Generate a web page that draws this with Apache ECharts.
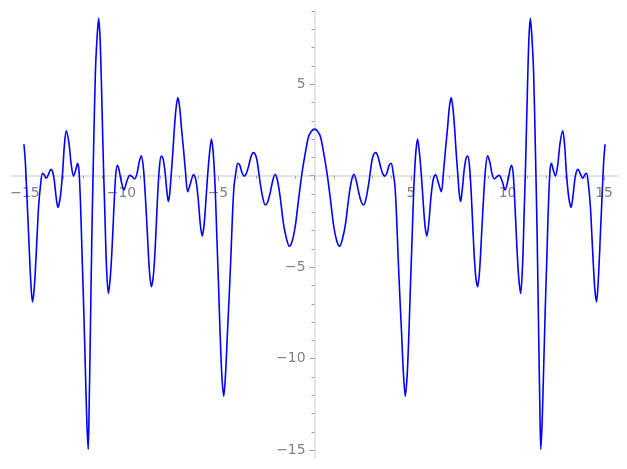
<!DOCTYPE html>
<html>
<head>
<meta charset="utf-8">
<script src="https://cdn.jsdelivr.net/npm/echarts@6/dist/echarts.min.js"></script>
<style>html,body{margin:0;padding:0;background:#fff;}#c{width:627px;height:469px;}</style>
</head>
<body>
<div id="c"></div>
<script>
// Values
const xLeft = [-15.05,-14.98,-14.90,-14.81,-14.71,-14.61,-14.52,-14.43,-14.36,-14.29,-14.19,-14.09,-14.00,-13.89,-13.77,-13.65,-13.56,-13.48,-13.39,-13.29,-13.17,-13.05,-12.96,-12.86,-12.72,-12.60,-12.48,-12.37,-12.27,-12.20,-12.12,-12.04,-11.96,-11.87,-11.79,-11.72,-11.67,-11.61,-11.53,-11.44,-11.35,-11.26,-11.18,-11.11,-11.05,-11.00,-10.93,-10.86,-10.78,-10.68,-10.58,-10.49,-10.40,-10.30,-10.21,-10.13,-10.03,-9.87,-9.72,-9.57,-9.45,-9.32,-9.19,-9.08,-8.97,-8.86,-8.75,-8.65,-8.55,-8.45,-8.36,-8.28,-8.20,-8.12,-8.03,-7.94,-7.85,-7.75,-7.66,-7.57,-7.50,-7.42,-7.33,-7.27,-7.18,-7.08,-6.98,-6.89,-6.79,-6.68,-6.57,-6.42,-6.27,-6.15,-6.03,-5.92,-5.82,-5.73,-5.64,-5.54,-5.44,-5.34,-5.25,-5.16,-5.10,-5.04,-4.97,-4.89,-4.80,-4.70,-4.60,-4.51,-4.42,-4.33,-4.25,-4.17,-4.07,-3.97,-3.86,-3.75,-3.64,-3.54,-3.42,-3.30,-3.18,-3.08,-2.98,-2.81,-2.68,-2.55,-2.43,-2.30,-2.17,-2.04,-1.92,-1.78,-1.61,-1.45,-1.30,-1.15,-1.00,-0.83,-0.65,-0.48,-0.31,-0.15];
const yLeft = [1.72,0.80,-1.00,-3.15,-5.50,-6.90,-6.20,-4.60,-3.10,-1.69,-0.50,0.13,0.05,-0.14,0.10,0.35,0.20,-0.24,-1.10,-1.73,-1.20,0.13,1.60,2.46,1.80,0.60,-0.02,0.30,0.68,0.30,-1.50,-4.30,-7.00,-10.50,-13.50,-14.96,-12.50,-8.60,-3.14,1.50,5.60,7.60,8.60,7.60,5.60,3.50,0.50,-2.00,-4.80,-6.43,-5.60,-4.06,-2.00,0.00,0.57,0.35,-0.20,-0.78,-0.30,0.02,-0.05,-0.18,0.13,0.75,1.09,0.40,-1.33,-3.30,-5.20,-6.07,-5.60,-4.50,-2.80,-1.00,0.50,1.08,0.95,0.30,-0.70,-1.42,-1.00,0.10,1.40,2.40,3.60,4.27,3.70,2.60,1.50,0.20,-0.88,-0.40,0.07,-0.20,-1.20,-2.60,-3.30,-2.80,-1.60,-0.05,1.20,2.00,1.30,-0.30,-2.00,-3.90,-6.00,-8.60,-10.90,-12.05,-10.70,-8.60,-6.60,-4.40,-2.20,-0.60,0.20,0.68,0.55,0.15,-0.02,0.10,0.49,1.00,1.26,1.20,0.86,-0.42,-1.20,-1.60,-1.45,-0.96,-0.30,0.08,-0.25,-1.15,-2.60,-3.45,-3.86,-3.55,-2.79,-1.33,0.13,1.22,2.13,2.45];
const xRight = [0.00,0.15,0.31,0.48,0.65,0.83,1.00,1.15,1.30,1.45,1.61,1.78,1.92,2.04,2.17,2.30,2.43,2.55,2.68,2.81,2.98,3.08,3.18,3.30,3.42,3.54,3.64,3.75,3.86,3.97,4.07,4.17,4.25,4.33,4.42,4.51,4.60,4.70,4.80,4.89,4.97,5.04,5.10,5.16,5.25,5.34,5.44,5.54,5.64,5.73,5.82,5.92,6.03,6.15,6.27,6.42,6.57,6.68,6.79,6.89,6.98,7.08,7.18,7.27,7.33,7.42,7.50,7.57,7.66,7.75,7.85,7.94,8.03,8.12,8.20,8.28,8.36,8.45,8.55,8.65,8.75,8.86,8.97,9.08,9.19,9.32,9.45,9.57,9.72,9.87,10.03,10.13,10.21,10.30,10.40,10.49,10.58,10.68,10.78,10.86,10.93,11.00,11.05,11.11,11.18,11.26,11.35,11.44,11.53,11.61,11.67,11.72,11.79,11.87,11.96,12.04,12.12,12.20,12.27,12.37,12.48,12.60,12.72,12.86,12.96,13.05,13.17,13.29,13.39,13.48,13.56,13.65,13.77,13.89,14.00,14.09,14.19,14.29,14.36,14.43,14.52,14.61,14.71,14.81,14.90,14.98,15.05];
const yRight = [2.55,2.45,2.13,1.22,0.13,-1.33,-2.79,-3.55,-3.86,-3.45,-2.60,-1.15,-0.25,0.08,-0.30,-0.96,-1.45,-1.60,-1.20,-0.42,0.86,1.20,1.26,1.00,0.49,0.10,-0.02,0.15,0.55,0.68,0.20,-0.60,-2.20,-4.40,-6.60,-8.60,-10.70,-12.05,-10.90,-8.60,-6.00,-3.90,-2.00,-0.30,1.30,2.00,1.20,-0.05,-1.60,-2.80,-3.30,-2.60,-1.20,-0.20,0.07,-0.40,-0.88,0.20,1.50,2.60,3.70,4.27,3.60,2.40,1.40,0.10,-1.00,-1.42,-0.70,0.30,0.95,1.08,0.50,-1.00,-2.80,-4.50,-5.60,-6.07,-5.20,-3.30,-1.33,0.40,1.09,0.75,0.13,-0.18,-0.05,0.02,-0.30,-0.78,-0.20,0.35,0.57,0.00,-2.00,-4.06,-5.60,-6.43,-4.80,-2.00,0.50,3.50,5.60,7.60,8.60,7.60,5.60,1.50,-3.14,-8.60,-12.50,-14.96,-13.50,-10.50,-7.00,-4.30,-1.50,0.30,0.68,0.30,-0.02,0.60,1.80,2.46,1.60,0.13,-1.20,-1.73,-1.10,-0.24,0.20,0.35,0.10,-0.14,0.05,0.13,-0.50,-1.69,-3.10,-4.60,-6.20,-6.90,-5.50,-3.15,-1.00,0.80,1.72];
const xMajorTicks = [-15,-10,-5,0,5,10,15];
const xLabels = [-15,-10,-5,5,10,15];
const xMinorTicks = [-15,-14,-13,-12,-11,-10,-9,-8,-7,-6,-5,-4,-3,-2,-1,0,1,2,3,4,5,6,7,8,9,10,11,12,13,14,15];
const yMajorTicks = [-15,-10,-5,0,5];
const yLabels = [-15,-10,-5,5];
const yMinorTicks = [-15,-14,-13,-12,-11,-10,-9,-8,-7,-6,-5,-4,-3,-2,-1,0,1,2,3,4,5,6,7,8,9];

const data = xLeft.map((x, i) => [x, yLeft[i]]).concat(xRight.map((x, i) => [x, yRight[i]]));
const fmt = v => (v < 0 ? '\u2212' + Math.abs(v) : String(v));
const XMIN = -15.72, XMAX = 15.72, YMIN = -15.46, YMAX = 9.06;
const W = 627, H = 469;
const G = {left: 11, right: 9, top: 10, bottom: 10.5};
const gw = W - G.left - G.right, gh = H - G.top - G.bottom;
// distance of the zero lines from the grid edges, via the axis scales
const xZeroOffset = -(gh * (0 - YMIN) / (YMAX - YMIN));
const yZeroOffset = -(gw * (0 - XMIN) / (XMAX - XMIN));
const lineCol = '#dcdcdc', tickCol = '#a0a0a0', labCol = '#808080';
const font = 'DejaVu Sans';

const chart = echarts.init(document.getElementById('c'), null, {renderer: 'canvas'});
chart.setOption({
  animation: false,
  backgroundColor: '#ffffff',
  grid: {left: G.left, right: G.right, top: G.top, bottom: G.bottom, containLabel: false, outerBoundsMode: 'none'},
  xAxis: [
    {type: 'value', min: XMIN, max: XMAX, position: 'bottom', offset: xZeroOffset,
     axisLine: {show: true, onZero: false, lineStyle: {color: lineCol, width: 1.5}},
     axisTick: {show: true, customValues: xMajorTicks, length: 5, inside: false, lineStyle: {color: tickCol, width: 1}},
     axisLabel: {show: true, customValues: xLabels, formatter: fmt, color: labCol, fontFamily: font, fontSize: 13.9, margin: 11},
     splitLine: {show: false}},
    {type: 'value', min: XMIN, max: XMAX, position: 'bottom', offset: xZeroOffset,
     axisLine: {show: false, onZero: false},
     axisTick: {show: true, customValues: xMinorTicks, length: 3, inside: false, lineStyle: {color: tickCol, width: 1}},
     axisLabel: {show: false}, splitLine: {show: false}}
  ],
  yAxis: [
    {type: 'value', min: YMIN, max: YMAX, position: 'left', offset: yZeroOffset,
     axisLine: {show: true, onZero: false, lineStyle: {color: lineCol, width: 1.5}},
     axisTick: {show: true, customValues: yMajorTicks, length: 5, inside: false, lineStyle: {color: tickCol, width: 1}},
     axisLabel: {show: true, customValues: yLabels, formatter: fmt, color: labCol, fontFamily: font, fontSize: 13.9, margin: 9},
     splitLine: {show: false}},
    {type: 'value', min: YMIN, max: YMAX, position: 'left', offset: yZeroOffset,
     axisLine: {show: false, onZero: false},
     axisTick: {show: true, customValues: yMinorTicks, length: 3, inside: false, lineStyle: {color: tickCol, width: 1}},
     axisLabel: {show: false}, splitLine: {show: false}}
  ],
  series: [{
    type: 'line', xAxisIndex: 0, yAxisIndex: 0, data: data,
    showSymbol: false, symbol: 'none', smooth: 0.3,
    lineStyle: {color: '#0000ff', width: 1.6}, z: 5
  }]
});
</script>
</body>
</html>
